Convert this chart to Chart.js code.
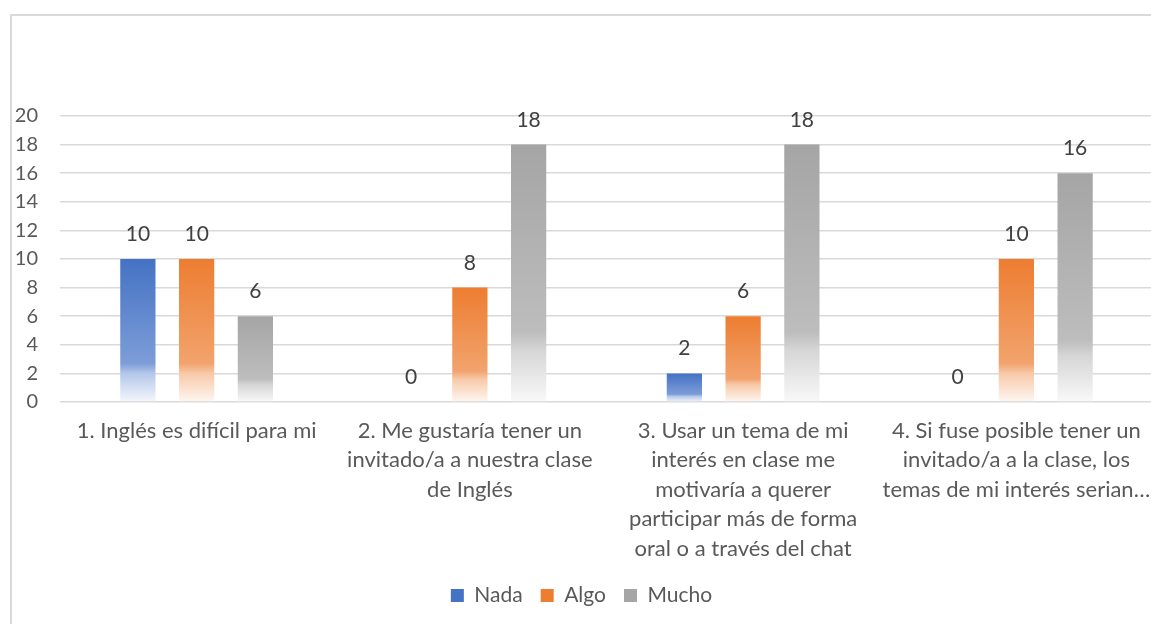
<!DOCTYPE html>
<html>
<head>
<meta charset="utf-8">
<script src="https://cdn.jsdelivr.net/npm/chart.js@4.4.1/dist/chart.umd.min.js"></script>
<style>
  html, body { margin: 0; padding: 0; background: #fff; overflow: hidden; }
  #grafico { display: block; }
</style>
</head>
<body>
<canvas id="grafico" width="1160" height="624"></canvas>
<script>
// datos
const categorias = [
    ["1. Inglés es difícil para mi"],
    ["2. Me gustaría tener un", "invitado/a a nuestra clase", "de Inglés"],
    ["3. Usar un tema de mi", "interés en clase me", "motivaría a querer", "participar más de forma", "oral o a través del chat"],
    ["4. Si fuse posible tener un", "invitado/a a la clase, los", "temas de mi interés serian…"]
];
const nada = [10, 0, 2, 0];
const algo = [10, 8, 6, 10];
const mucho = [6, 18, 18, 16];

const fuente = "Lato, 'Open Sans', sans-serif";
const gris_texto = '#595959';

// colores tipo Excel: solido arriba, se aclara hacia la base
const paletas = {
    Nada:  ['#4472C4', '#7D9DD8', '#B4C7E9', '#F4F7FC'],
    Algo:  ['#ED7D31', '#F2A36D', '#F7C9A8', '#FEF7F2'],
    Mucho: ['#A5A5A5', '#BDBDBD', '#D6D6D6', '#F9F9F9']
};

function degradado(ctx, pal) {
    const chart = ctx.chart;
    if (!chart.chartArea || ctx.type !== 'data') return pal[0];
    const y = chart.scales.y;
    const top = y.getPixelForValue(ctx.raw);
    const base = y.getPixelForValue(0);
    if (base - top < 1) return pal[0];
    const g = chart.ctx.createLinearGradient(0, top, 0, base);
    g.addColorStop(0, pal[0]);
    g.addColorStop(0.73, pal[1]);
    g.addColorStop(0.80, pal[2]);
    g.addColorStop(1, pal[3]);
    return g;
}

function serie(nombre, datos) {
    return {
        label: nombre,
        data: datos,
        backgroundColor: (ctx) => degradado(ctx, paletas[nombre]),
        borderWidth: 0,
        categoryPercentage: 0.645,
        barPercentage: 0.6
    };
}

// etiquetas de valor encima de las barras
const etiquetas = {
    id: 'etiquetas',
    afterDatasetsDraw(chart) {
        const ctx = chart.ctx;
        ctx.save();
        ctx.font = '21px ' + fuente;
        ctx.fillStyle = '#404040';
        ctx.textAlign = 'center';
        ctx.textBaseline = 'alphabetic';
        chart.data.datasets.forEach((ds, i) => {
            chart.getDatasetMeta(i).data.forEach((bar, j) => {
                ctx.fillText(ds.data[j], bar.x, bar.y - 18);
            });
        });
        ctx.restore();
    }
};

// marco gris del area del grafico
const marco = {
    id: 'marco',
    beforeDraw(chart) {
        const ctx = chart.ctx;
        ctx.save();
        ctx.strokeStyle = '#D9D9D9';
        ctx.lineWidth = 2;
        ctx.beginPath();
        ctx.moveTo(11, 640);
        ctx.lineTo(11, 15);
        ctx.lineTo(1200, 15);
        ctx.stroke();
        ctx.restore();
    }
};

new Chart(document.getElementById('grafico'), {
    type: 'bar',
    data: {
        labels: categorias,
        datasets: [serie('Nada', nada), serie('Algo', algo), serie('Mucho', mucho)]
    },
    options: {
        responsive: false,
        animation: false,
        devicePixelRatio: 1,
        layout: { padding: { left: 10, right: 7, top: 116, bottom: 8 } },
        plugins: {
            tooltip: { enabled: false },
            legend: {
                position: 'bottom',
                labels: {
                    color: gris_texto,
                    font: { family: fuente, size: 21 },
                    boxWidth: 13,
                    boxHeight: 13,
                    padding: 18,
                    generateLabels: (chart) => chart.data.datasets.map((ds, i) => ({
                        text: ds.label,
                        fillStyle: paletas[ds.label][0],
                        strokeStyle: paletas[ds.label][0],
                        lineWidth: 0,
                        fontColor: gris_texto,
                        datasetIndex: i
                    }))
                }
            }
        },
        scales: {
            x: {
                grid: { display: false },
                border: { display: false },
                ticks: {
                    color: gris_texto,
                    font: { family: fuente, size: 22, lineHeight: 1.34 },
                    maxRotation: 0,
                    autoSkip: false,
                    padding: 6
                },
                afterFit: (s) => { s.height = 165; }
            },
            y: {
                min: 0,
                max: 20,
                ticks: {
                    stepSize: 2,
                    color: gris_texto,
                    font: { family: fuente, size: 20 },
                    padding: 22
                },
                grid: { color: '#D9D9D9', lineWidth: 1.5, drawTicks: false },
                border: { display: false },
                afterFit: (s) => { s.width = 50; }
            }
        }
    },
    plugins: [etiquetas, marco]
});
</script>
</body>
</html>
